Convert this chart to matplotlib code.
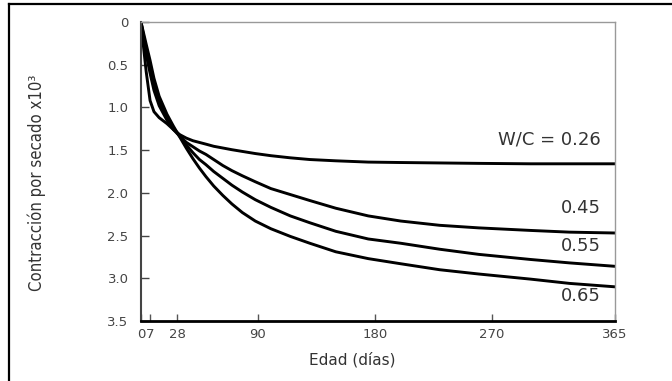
import matplotlib
matplotlib.use("Agg")
import matplotlib.pyplot as plt
from matplotlib.lines import Line2D

# data (shrinkage x10^-3 vs age in days)
days = [0, 2, 4, 7, 10, 14, 20, 25, 30, 35, 40, 45, 50, 56, 63, 70, 78, 88, 100,
        115, 130, 150, 175, 200, 230, 260, 300, 330, 365]
wc_026 = [0, 0.30, 0.58, 0.92, 1.05, 1.12, 1.19, 1.26, 1.32, 1.36, 1.39, 1.41, 1.43, 1.455, 1.475,
          1.495, 1.515, 1.54, 1.565, 1.59, 1.61, 1.625, 1.64, 1.645, 1.65, 1.655, 1.66, 1.66, 1.66]
wc_045 = [0, 0.20, 0.38, 0.60, 0.80, 0.98, 1.15, 1.26, 1.34, 1.41, 1.46, 1.51, 1.55, 1.61, 1.68,
          1.74, 1.80, 1.87, 1.95, 2.02, 2.09, 2.18, 2.27, 2.33, 2.38, 2.41, 2.44, 2.46, 2.47]
wc_055 = [0, 0.16, 0.31, 0.52, 0.73, 0.92, 1.12, 1.24, 1.34, 1.44, 1.53, 1.61, 1.67, 1.75, 1.83,
          1.91, 1.99, 2.08, 2.17, 2.27, 2.35, 2.45, 2.54, 2.59, 2.66, 2.72, 2.78, 2.82, 2.86]
wc_065 = [0, 0.13, 0.26, 0.45, 0.66, 0.87, 1.08, 1.22, 1.35, 1.48, 1.60, 1.71, 1.81, 1.92, 2.03,
          2.13, 2.23, 2.33, 2.42, 2.51, 2.59, 2.69, 2.77, 2.83, 2.90, 2.95, 3.01, 3.06, 3.10]

series = [wc_026, wc_045, wc_055, wc_065]
curve_labels = ["W/C = 0.26", "0.45", "0.55", "0.65"]
label_y = [1.37, 2.18, 2.62, 3.21]

x_ticks = [0, 7, 28, 90, 180, 270, 365]
y_ticks = [0, 0.5, 1.0, 1.5, 2.0, 2.5, 3.0, 3.5]
y_ticklabels = ["0", "0.5", "1.0", "1.5", "2.0", "2.5", "3.0", "3.5"]

fig = plt.figure(figsize=(6.72, 3.81), dpi=100)
ax = fig.add_axes([0.2098, 0.1575, 0.7054, 0.7848])

for ys in series:
    ax.plot(days, ys, color="black", lw=2.1, solid_joinstyle="round")

for txt, yv in zip(curve_labels, label_y):
    ax.text(354, yv, txt, ha="right", va="center", fontsize=13, color="#333333")

ax.set_xlim(0, 365)
ax.set_ylim(3.5, 0)
ax.set_xticks(x_ticks)
ax.set_xticklabels([str(t) for t in x_ticks])
ax.set_yticks(y_ticks)
ax.set_yticklabels(y_ticklabels)
ax.tick_params(axis="y", direction="in", length=6, width=1, pad=9,
               labelsize=9.5, labelcolor="#444444", color="#444444")
ax.tick_params(axis="x", direction="in", length=5, width=1, pad=5,
               labelsize=9.5, labelcolor="#444444", color="#555555")

ax.spines["left"].set_color("#444444")
ax.spines["left"].set_linewidth(1.5)
ax.spines["bottom"].set_color("black")
ax.spines["bottom"].set_linewidth(2)
ax.spines["top"].set_color("#999999")
ax.spines["top"].set_linewidth(1)
ax.spines["right"].set_color("#999999")
ax.spines["right"].set_linewidth(1)

fig.text(352 / 672, 1 - 360 / 381, "Edad (días)", ha="center", va="center",
         fontsize=11, color="#333333")
fig.text(37 / 672, 1 - 183 / 381, "Contracción por secado x10³", ha="center", va="center",
         rotation=90, fontsize=12, color="#333333", fontstretch="condensed")

# outer frame (top and left edges only visible in the reference)
fig.add_artist(Line2D([9 / 672, 1.01], [1 - 4 / 381, 1 - 4 / 381], color="black", lw=1.6))
fig.add_artist(Line2D([9 / 672, 9 / 672], [-0.01, 1 - 4 / 381], color="black", lw=1.6))

fig.savefig("out.png", dpi=100)
